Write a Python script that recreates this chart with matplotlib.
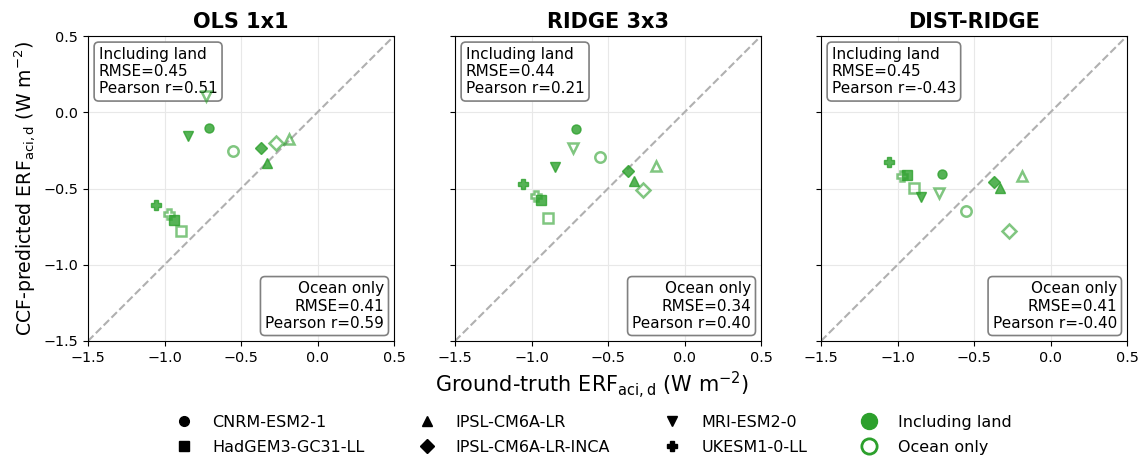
import matplotlib
matplotlib.use("Agg")
import matplotlib.pyplot as plt
from matplotlib.lines import Line2D

models = ["CNRM-ESM2-1", "HadGEM3-GC31-LL", "IPSL-CM6A-LR",
          "IPSL-CM6A-LR-INCA", "MRI-ESM2-0", "UKESM1-0-LL"]
markers = ["o", "s", "^", "D", "v", "P"]

# ground truth (x) for each model
truth_land = [-0.711, -0.935, -0.332, -0.367, -0.847, -1.053]
truth_ocean = [-0.551, -0.889, -0.186, -0.269, -0.731, -0.968]

panels = ["OLS 1x1", "RIDGE 3x3", "DIST-RIDGE"]
pred_land = [
    [-0.101, -0.709, -0.334, -0.236, -0.154, -0.605],
    [-0.112, -0.574, -0.448, -0.382, -0.356, -0.469],
    [-0.404, -0.413, -0.496, -0.459, -0.557, -0.328],
]
pred_ocean = [
    [-0.256, -0.781, -0.175, -0.199, 0.108, -0.666],
    [-0.291, -0.692, -0.350, -0.513, -0.234, -0.552],
    [-0.650, -0.496, -0.417, -0.781, -0.528, -0.419],
]
stats_land = [("0.45", "0.51"), ("0.44", "0.21"), ("0.45", "-0.43")]
stats_ocean = [("0.41", "0.59"), ("0.34", "0.40"), ("0.41", "-0.40")]

green = "#2ca02c"

fig = plt.figure(figsize=(11.43, 4.59), dpi=100)
lefts = [88 / 1143, 455 / 1143, 821 / 1143]
w = 306 / 1143
b = (459 - 341) / 459
h = 305 / 459

for i, name in enumerate(panels):
    ax = fig.add_axes([lefts[i], b, w, h])
    ax.grid(True, color="#e8e8e8", lw=0.8)
    ax.set_axisbelow(True)
    ax.plot([-1.5, 0.5], [-1.5, 0.5], ls="--", color="#b0b0b0", lw=1.5, zorder=1)
    for j in range(len(models)):
        ax.plot(truth_land[j], pred_land[i][j], marker=markers[j], ls="none",
                color=green, alpha=0.8, ms=6.5, mec=green, zorder=6)
        ax.plot(truth_ocean[j], pred_ocean[i][j], marker=markers[j], ls="none",
                mfc="none", mec=green, alpha=0.6, ms=7.5, mew=1.8, zorder=6)
    ax.set_xlim(-1.5, 0.5)
    ax.set_ylim(-1.5, 0.5)
    ax.set_xticks([-1.5, -1.0, -0.5, 0.0, 0.5])
    ax.set_yticks([-1.5, -1.0, -0.5, 0.0, 0.5])
    ax.tick_params(labelsize=10.4)
    if i > 0:
        ax.set_yticklabels([])
    else:
        ax.set_ylabel(r"CCF-predicted ERF$_{\mathrm{aci,d}}$ (W m$^{-2}$)", fontsize=13.6)
    ax.set_title(name, fontsize=15, fontweight="bold")
    bbox = dict(boxstyle="round,pad=0.3", fc="white", ec="gray", lw=1.2)
    ax.text(0.035, 0.965, "Including land\nRMSE=%s\nPearson r=%s" % stats_land[i],
            transform=ax.transAxes, ha="left", va="top", fontsize=11, bbox=bbox,
            zorder=5)
    ax.text(0.967, 0.033, "Ocean only\nRMSE=%s\nPearson r=%s" % stats_ocean[i],
            transform=ax.transAxes, ha="right", va="bottom", fontsize=11, bbox=bbox,
            multialignment="right", zorder=5)

fig.text(0.518, (459 - 385) / 459, r"Ground-truth ERF$_{\mathrm{aci,d}}$ (W m$^{-2}$)",
         ha="center", va="center", fontsize=15)

handles = [Line2D([], [], marker=m, ls="none", color="black", ms=7) for m in markers]
handles += [Line2D([], [], marker="o", ls="none", color=green, ms=11.5),
            Line2D([], [], marker="o", ls="none", mfc="none", mec=green, mew=2, ms=11)]
labels = models + ["Including land", "Ocean only"]
fig.legend(handles, labels, ncol=4, loc="upper center", bbox_to_anchor=(0.516, 0.128),
           frameon=False, fontsize=11.5, columnspacing=2.9, labelspacing=0.62)

fig.savefig("out.png", dpi=100)
